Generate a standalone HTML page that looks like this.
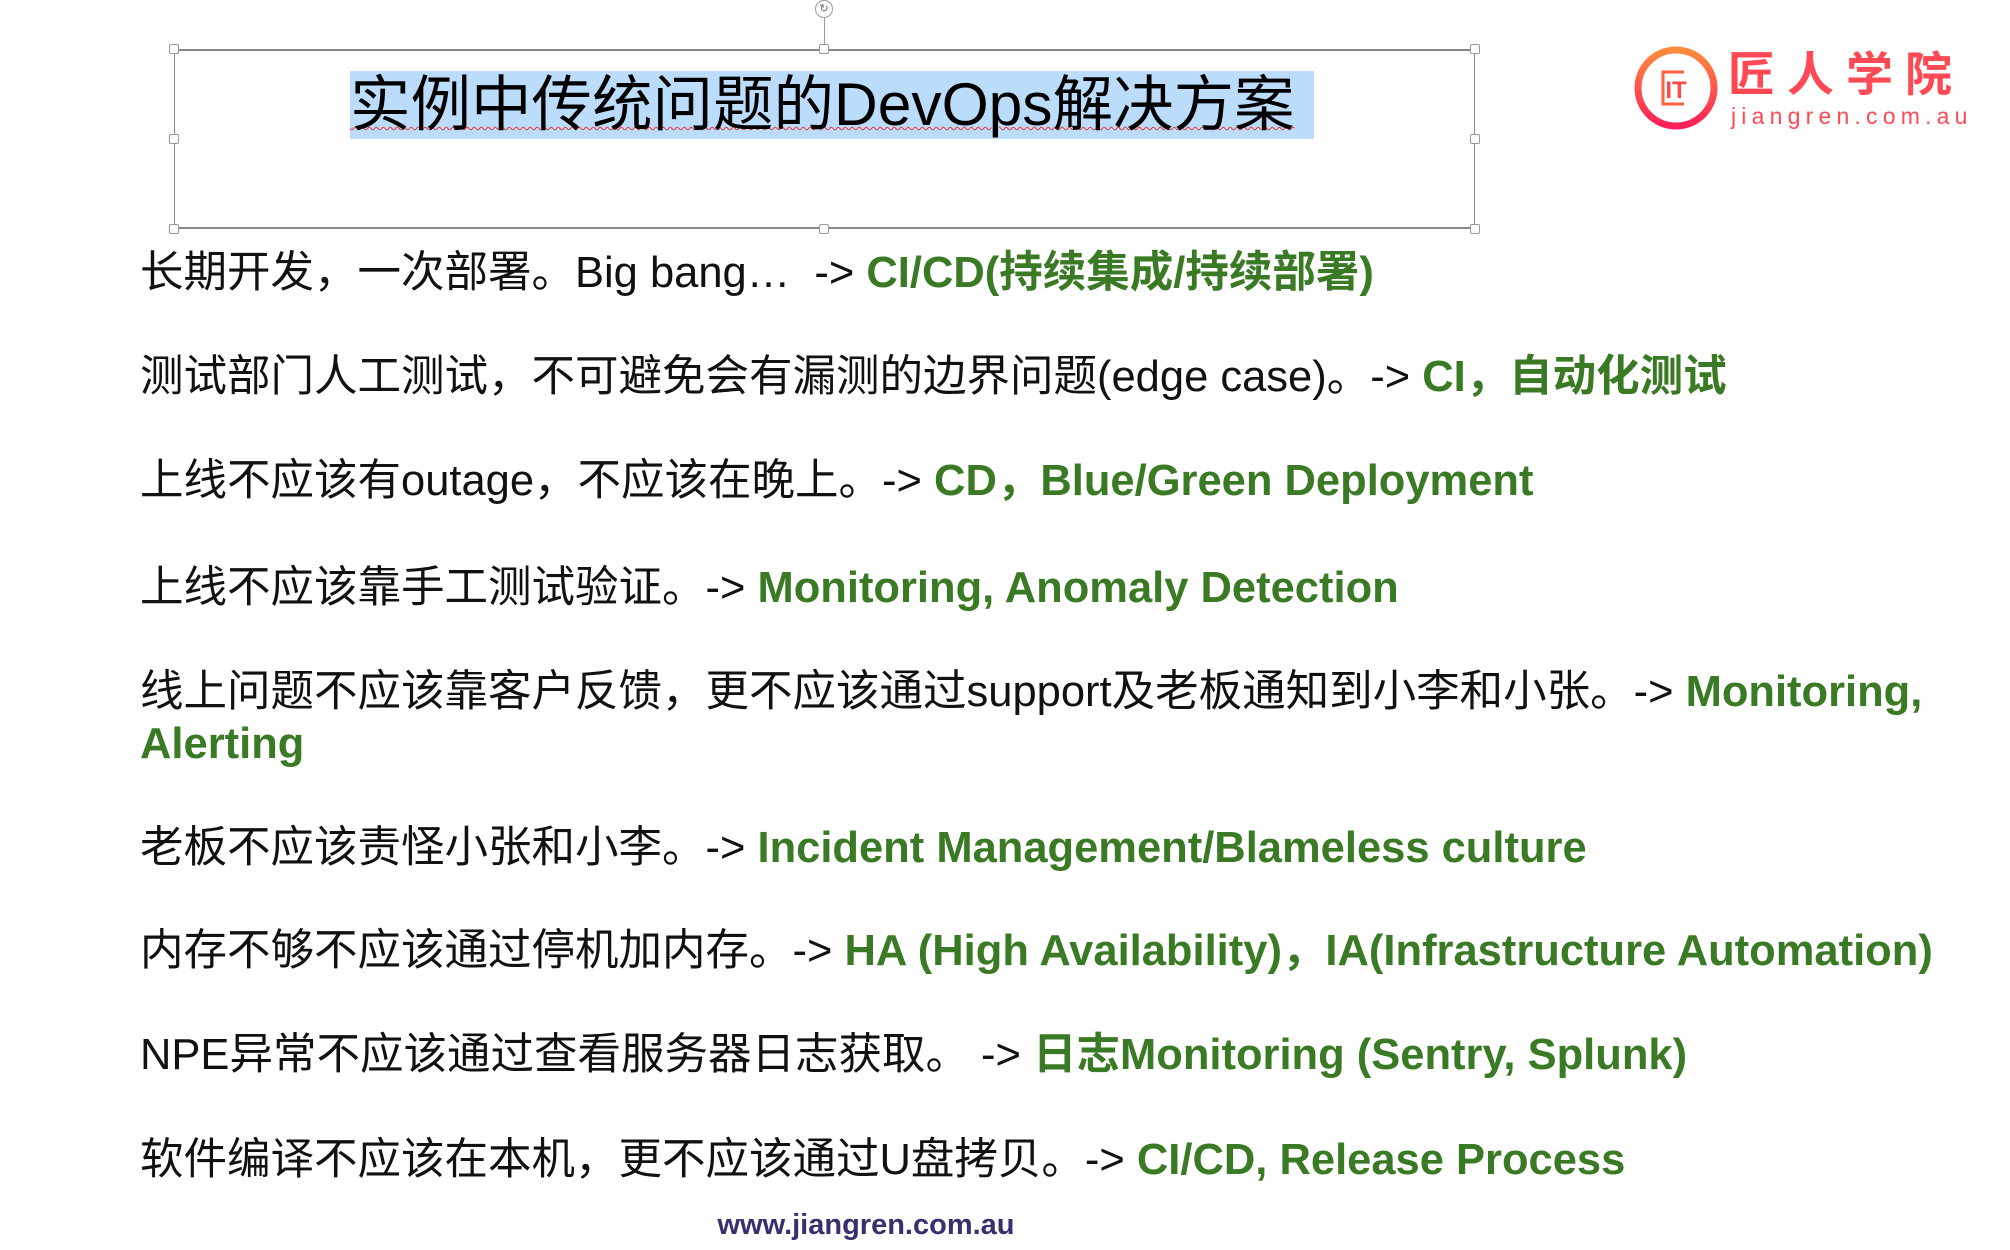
<!DOCTYPE html>
<html><head><meta charset="utf-8"><style>
html,body{margin:0;padding:0;background:#fff;}
body{width:2010px;height:1250px;position:relative;overflow:hidden;font-family:"Liberation Sans","Noto Sans CJK SC",sans-serif;}
.l{position:absolute;left:140px;height:60px;line-height:60px;font-size:43.5px;color:#111;white-space:nowrap;}
.g{color:#3a7a24;font-weight:bold;}
.h{position:absolute;width:10px;height:10px;border:1px solid #999;background:#fff;box-sizing:border-box;border-radius:2px;}
</style></head><body>
<!-- selection box -->
<div style="position:absolute;left:174px;top:49px;width:1301px;height:180px;border:1px solid #888;border-top:2px solid #888;border-bottom:2px solid #888;box-sizing:border-box;"></div>
<div style="position:absolute;left:824px;top:18px;width:1px;height:31px;background:#999;"></div>
<div style="position:absolute;left:815px;top:0px;width:18px;height:18px;border:1px solid #999;border-radius:50%;box-sizing:border-box;background:#fff;font-size:11px;line-height:16px;text-align:center;color:#666;">↻</div>
<div class="h" style="left:169px;top:44px"></div>
<div class="h" style="left:819px;top:44px"></div>
<div class="h" style="left:1470px;top:44px"></div>
<div class="h" style="left:169px;top:134px"></div>
<div class="h" style="left:1470px;top:134px"></div>
<div class="h" style="left:169px;top:224px"></div>
<div class="h" style="left:819px;top:224px"></div>
<div class="h" style="left:1470px;top:224px"></div>
<!-- title -->
<div style="position:absolute;left:350px;top:71px;width:964px;height:68px;background:#bcdcfb;"></div>
<div style="position:absolute;left:350px;top:68px;height:72px;line-height:72px;font-size:60.5px;color:#000;white-space:nowrap;text-decoration:underline wavy #e33;text-decoration-thickness:1px;">实例中传统问题的DevOps解决方案</div>
<!-- logo -->
<svg style="position:absolute;left:1630px;top:42px" width="92" height="92" viewBox="0 0 92 92">
<defs><linearGradient id="lg" x1="0" y1="0" x2="0" y2="1"><stop offset="0" stop-color="#ff8a3d"/><stop offset="1" stop-color="#ff1f5a"/></linearGradient></defs>
<circle cx="46" cy="46" r="38" fill="none" stroke="url(#lg)" stroke-width="7"/>
<path d="M54 30 H33 V62 H54" fill="none" stroke="#ff6040" stroke-width="3"/>
<text x="46" y="56" font-family="Liberation Sans" font-weight="bold" font-size="24" fill="#ff4a4a" text-anchor="middle">IT</text>
</svg>
<div style="position:absolute;left:1728px;top:44px;font-size:47px;line-height:54px;color:#ff4a55;font-weight:bold;letter-spacing:12px;white-space:nowrap;font-family:'Noto Sans CJK SC',sans-serif;">匠人学院</div>
<div style="position:absolute;left:1731px;top:102px;font-size:23px;line-height:28px;color:#ff4a55;letter-spacing:5.2px;white-space:nowrap;">jiangren.com.au</div>
<!-- lines -->
<div class="l" style="top:243px">长期开发，一次部署。Big bang…&nbsp; -&gt; <span class="g">CI/CD(持续集成/持续部署)</span></div>
<div class="l" style="top:347px">测试部门人工测试，不可避免会有漏测的边界问题(edge case)。-&gt; <span class="g">CI，自动化测试</span></div>
<div class="l" style="top:451px">上线不应该有outage，不应该在晚上。-&gt; <span class="g">CD，Blue/Green Deployment</span></div>
<div class="l" style="top:558px">上线不应该靠手工测试验证。-&gt; <span class="g">Monitoring, Anomaly Detection</span></div>
<div class="l" style="top:662px">线上问题不应该靠客户反馈，更不应该通过support及老板通知到小李和小张。-&gt; <span class="g">Monitoring,</span></div>
<div class="l" style="top:714px"><span class="g">Alerting</span></div>
<div class="l" style="top:818px">老板不应该责怪小张和小李。-&gt; <span class="g">Incident Management/Blameless culture</span></div>
<div class="l" style="top:921px">内存不够不应该通过停机加内存。-&gt; <span class="g">HA (High Availability)，IA(Infrastructure Automation)</span></div>
<div class="l" style="top:1025px">NPE异常不应该通过查看服务器日志获取。 -&gt; <span class="g">日志Monitoring (Sentry, Splunk)</span></div>
<div class="l" style="top:1130px">软件编译不应该在本机，更不应该通过U盘拷贝。-&gt; <span class="g">CI/CD, Release Process</span></div>
<!-- footer -->
<div style="position:absolute;left:0;width:1732px;top:1209px;text-align:center;font-size:29px;line-height:32px;font-weight:bold;color:#3b2d6e;">www.jiangren.com.au</div>
</body></html>
